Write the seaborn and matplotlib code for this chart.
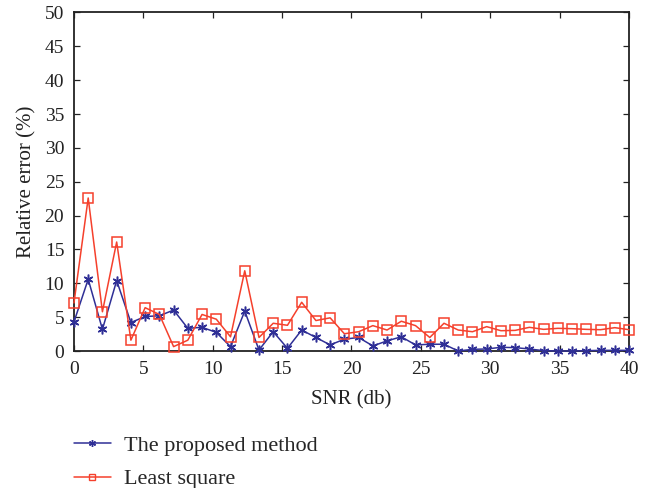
import numpy as np
import pandas as pd
import matplotlib
matplotlib.use("Agg")
import matplotlib.pyplot as plt
from matplotlib.lines import Line2D
import seaborn as sns

# SNR sweep: 40 evenly spaced points from 0 to 40 dB
snr = np.linspace(0, 40, 40)

proposed = [4.3, 10.6, 3.2, 10.4, 4.2, 5.1, 5.2, 6.05, 3.35, 3.5,
            2.75, 0.65, 5.9, 0.15, 2.85, 0.4, 3.1, 2.0, 0.9, 1.75,
            2.0, 0.75, 1.5, 2.1, 0.9, 1.0, 1.0, 0.0, 0.25, 0.3,
            0.55, 0.5, 0.3, 0.05, 0.0, 0.0, 0.05, 0.1, 0.1, 0.1]

least_square = [7.1, 22.6, 5.8, 16.1, 1.6, 6.4, 5.4, 0.65, 1.6, 5.4,
                4.7, 2.1, 11.85, 2.0, 4.1, 3.8, 7.2, 4.5, 4.9, 2.55,
                2.85, 3.75, 3.1, 4.4, 3.75, 2.0, 4.1, 3.1, 2.85, 3.6,
                3.0, 3.05, 3.5, 3.2, 3.35, 3.3, 3.2, 3.15, 3.45, 3.15]

series_names = ["The proposed method", "Least square"]

df = pd.DataFrame({
    "snr": np.concatenate([snr, snr]),
    "err": np.concatenate([proposed, least_square]),
    "method": [series_names[0]] * len(snr) + [series_names[1]] * len(snr),
})

sns.set_style("white")
plt.rcParams["font.family"] = ["Liberation Serif", "DejaVu Serif"]

blue = "#2f2f96"
red = "#f5402c"
ink = "#222222"

fig = plt.figure(figsize=(6.54, 4.88), dpi=100)
ax = fig.add_axes([0.1131, 0.2807, 0.8487, 0.6937])

star = (6, 2, 0)
sns.lineplot(data=df[df.method == series_names[0]], x="snr", y="err",
             color=blue, lw=1.1, marker=star, markersize=7,
             markeredgewidth=1.1, markeredgecolor=blue, legend=False, ax=ax)
sns.lineplot(data=df[df.method == series_names[1]], x="snr", y="err",
             color=red, lw=1.1, marker="s", markersize=7,
             markerfacecolor="none", markeredgewidth=1.1, markeredgecolor=red,
             legend=False, ax=ax)
for ln in ax.lines:
    ln.set_clip_on(False)
    ln.set_zorder(3)

ax.set_xlim(0, 40)
ax.set_ylim(0, 50)
ax.set_xticks(np.arange(0, 41, 5))
ax.set_yticks(np.arange(0, 51, 5))
ax.set_xlabel("SNR (db)", fontsize=15, color=ink, labelpad=9)
ax.set_ylabel("Relative error (%)", fontsize=15, color=ink, labelpad=6)
ax.tick_params(direction="in", length=4, width=0.9, labelsize=14,
               top=True, right=True, bottom=True, left=True, colors=ink,
               labelcolor=ink, pad=7)
for s in ax.spines.values():
    s.set_visible(True)
    s.set_color(ink)
    s.set_linewidth(1.3)

handles = [
    Line2D([], [], color=blue, lw=1.1, marker=star, markersize=5,
           markeredgewidth=1.0, markeredgecolor=blue),
    Line2D([], [], color=red, lw=1.1, marker="s", markersize=5,
           markerfacecolor="none", markeredgewidth=1.0, markeredgecolor=red),
]
fig.legend(handles, series_names, loc="upper left",
           bbox_to_anchor=(74 / 654, 1 - 435 / 488), frameon=False,
           fontsize=16, handlelength=1.65, handletextpad=0.6,
           labelspacing=0.6, borderpad=0, borderaxespad=0)

fig.savefig("out.png", dpi=100)
